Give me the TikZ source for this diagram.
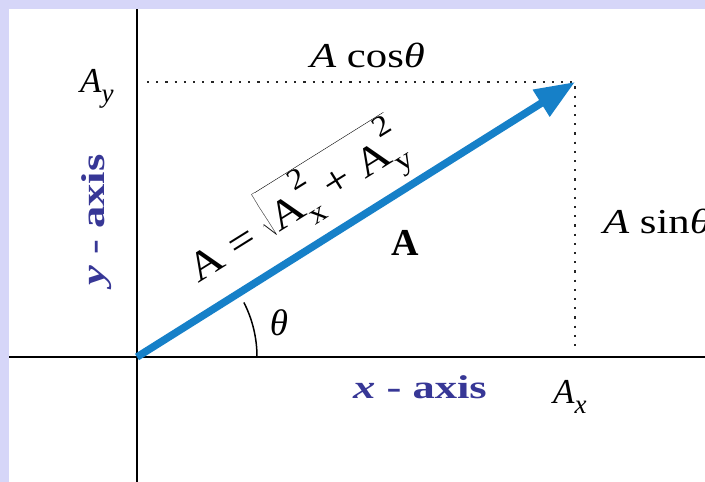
\documentclass[tikz,border=0pt]{standalone}
\usepackage{fontspec}
\usepackage{graphicx}
\setmainfont{Liberation Serif}
\usetikzlibrary{arrows.meta}
\definecolor{bgband}{RGB}{214,214,248}
\definecolor{vecblue}{RGB}{22,128,200}
\definecolor{axisblue}{RGB}{55,55,150}
\newcommand{\subsup}[2]{\rlap{\raisebox{-0.32em}[0pt][0pt]{\fontsize{29}{29}\selectfont #1}}\raisebox{0.66em}{\fontsize{29}{29}\selectfont #2}}
\begin{document}
\begin{tikzpicture}[x=1pt,y=1pt,
  lbl/.style={font=\fontsize{35}{37}\selectfont, inner sep=0pt},
  axlbl/.style={font=\fontsize{33}{35}\selectfont\bfseries, text=axisblue, inner sep=0pt},
  axisline/.style={line width=2.5pt, black},
  dotline/.style={line width=2.2pt, dash pattern=on 2.2pt off 7pt, black!85},
  vec/.style={line width=7.5pt, vecblue, -{Triangle[length=40pt,width=30pt]}},
  anglearc/.style={line width=1.5pt, black}]
\useasboundingbox (0,0) rectangle (705,-482);
\clip (0,0) rectangle (705,-482);
\fill[bgband] (0,0) rectangle (705,-482);
\fill[white] (9,-9) rectangle (705,-482);
% coordinates
\coordinate (O) at (137,-357);
\coordinate (P) at (575,-82);
\coordinate (ytop) at (137,-9);
\coordinate (ybot) at (137,-482);
\coordinate (xleft) at (9,-357);
\coordinate (xright) at (705,-357);
\coordinate (dh) at (147,-82);
\coordinate (dv) at (575,-352);
% axes
\draw[axisline] (ytop) -- (ybot);
\draw[axisline] (xleft) -- (xright);
% dotted projections
\draw[dotline] (dh) -- (P) -- (dv);
% vector
\draw[vec] (O) -- (P);
% angle arc
\draw[anglearc] (O) ++(120,0) coordinate (arcstart) arc[start angle=0, end angle=27, radius=120pt];
% labels
\node[lbl, anchor=base west] (lay) at (80,-92) {\itshape A\raisebox{-0.3em}{\fontsize{27}{27}\selectfont y}};
\node[lbl, anchor=base west] (lcos) at (310,-67) {\scalebox{1.22}[1]{{\itshape A} cos{\itshape θ}}};
\node[lbl, anchor=base west] (lsin) at (603,-233) {\scalebox{1.22}[1]{{\itshape A} sin{\itshape θ}}};
\node[lbl, anchor=base west] (lax) at (553,-403) {\itshape A\raisebox{-0.3em}{\fontsize{27}{27}\selectfont x}};
\node[lbl, font=\fontsize{37}{39}\selectfont, anchor=center] (lth) at (279,-323) {\itshape θ};
\node[lbl, font=\fontsize{38}{40}\selectfont\bfseries, anchor=center] (lA) at (405,-243) {A};
\node[axlbl, anchor=base west] (xax) at (353,-398) {\scalebox{1.35}[1]{{\itshape x} - axis}};
\node[axlbl, anchor=base, rotate=90] (yax) at (104,-220) {\scalebox{1.35}[1]{{\itshape y} - axis}};
\node[lbl, font=\fontsize{41}{43}\selectfont, rotate=32, anchor=base west] (form) at (198,-284)
  {\scalebox{1.15}[1]{A = $\sqrt{\hbox{A\subsup{x}{2} + A\subsup{y}{2}}}$}};
\end{tikzpicture}
\end{document}
